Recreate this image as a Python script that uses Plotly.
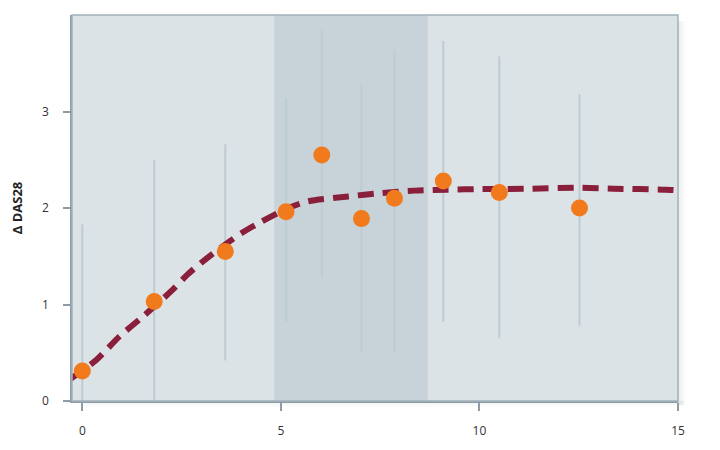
import plotly.graph_objects as go

# ---- data ----
x_pts = [0, 1.81, 3.60, 5.13, 6.03, 7.03, 7.86, 9.09, 10.50, 12.52]
y_pts = [0.31, 1.03, 1.55, 1.96, 2.55, 1.89, 2.10, 2.28, 2.16, 2.00]
bar_top = [1.83, 2.50, 2.66, 3.14, 3.84, 3.28, 3.64, 3.73, 3.57, 3.18]
bar_bottom = [0.0, 0.0, 0.42, 0.82, 1.27, 0.51, 0.51, 0.82, 0.65, 0.78]

curve_x = [-0.31, 0.35, 0.93, 1.52, 2.27, 2.64, 3.19, 4.02, 4.52, 5.19, 5.69,
           6.70, 7.53, 8.36, 9.20, 10.04, 11.29, 12.54, 13.37, 14.72, 15.04]
curve_y = [0.225, 0.425, 0.667, 0.874, 1.151, 1.307, 1.497, 1.743, 1.86, 2.00, 2.07,
           2.12, 2.155, 2.18, 2.19, 2.196, 2.20, 2.21, 2.20, 2.19, 2.18]

shade_range = [4.83, 8.70]
x_ticks = [0, 5, 10, 15]
y_ticks = [0, 1, 2, 3]
y_title = "Δ DAS28"

err_plus = [t - y for t, y in zip(bar_top, y_pts)]
err_minus = [y - b for y, b in zip(y_pts, bar_bottom)]

fig = go.Figure()

# error bars (drawn first, under everything)
fig.add_trace(go.Scatter(
    x=x_pts, y=y_pts, mode="markers",
    marker=dict(size=1, color="rgba(0,0,0,0)"),
    error_y=dict(type="data", symmetric=False, array=err_plus, arrayminus=err_minus,
                 color="#bfcbd2", thickness=2, width=0),
    hoverinfo="skip", showlegend=False))

# fitted curve
fig.add_trace(go.Scatter(
    x=curve_x, y=curve_y, mode="lines",
    line=dict(color="#8a1f3b", width=6, dash="16px,9px", shape="spline", smoothing=0.8),
    showlegend=False))

# points
fig.add_trace(go.Scatter(
    x=x_pts, y=y_pts, mode="markers",
    marker=dict(size=17, color="#f07a1c", line=dict(width=0)),
    showlegend=False, cliponaxis=False))

shapes = [
    dict(type="rect", xref="x", yref="paper", x0=shade_range[0], x1=shade_range[1],
         y0=0, y1=1, fillcolor="#c8d3d9", line=dict(width=0), layer="below"),
    dict(type="rect", xref="paper", yref="paper", x0=0, x1=1, y0=0, y1=1,
         line=dict(color="#a3b1ba", width=1.5), fillcolor="rgba(0,0,0,0)", layer="above"),
]
# soft drop shadow right and bottom
px_x = 1.0 / 609
px_y = 1.0 / 386
for i in range(7):
    op = 0.10 * (1 - i / 7)
    shapes.append(dict(type="rect", xref="paper", yref="paper",
                       x0=1 + i * px_x, x1=1 + (i + 1) * px_x, y0=-4 * px_y, y1=1 - 6 * px_y,
                       fillcolor="rgba(60,70,80,%.3f)" % op, line=dict(width=0), layer="below"))
for i in range(6):
    op = 0.08 * (1 - i / 6)
    shapes.append(dict(type="rect", xref="paper", yref="paper",
                       x0=0.02, x1=1 + 6 * px_x, y0=-(i + 1) * px_y, y1=-i * px_y,
                       fillcolor="rgba(60,70,80,%.3f)" % op, line=dict(width=0), layer="below"))

# the page body adds an 8px margin, so the figure is 8px smaller and shifted
fig.update_layout(
    width=712, height=442,
    margin=dict(l=61, r=42, t=7, b=49),
    paper_bgcolor="white", plot_bgcolor="#dce3e7",
    font=dict(family="Open Sans, sans-serif", size=12, color="#333333"),
    shapes=shapes,
    xaxis=dict(range=[-0.26, 15], tickvals=x_ticks, showgrid=False, zeroline=False,
               showline=True, linecolor="#8d9ca6", linewidth=1.5,
               ticks="outside", ticklen=8, tickcolor="#8d9ca6", tickwidth=1.5,
               ticklabelstandoff=10),
    yaxis=dict(range=[0, 4.0], tickvals=y_ticks, showgrid=False, zeroline=False,
               showline=True, linecolor="#8d9ca6", linewidth=1.5,
               ticks="outside", ticklen=7, tickcolor="#8d9ca6", tickwidth=1.5,
               ticklabelstandoff=12,
               title=dict(text="<b>" + y_title + "</b>", font=dict(size=13, color="#222222"),
                          standoff=18)),
)

fig.write_html("out.html")
